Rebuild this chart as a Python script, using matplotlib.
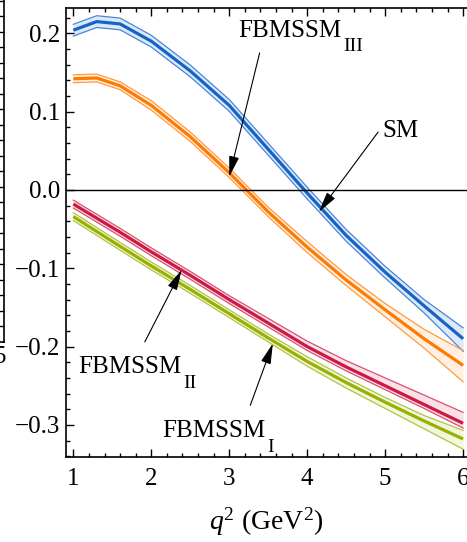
import matplotlib
matplotlib.use("Agg")
import matplotlib.pyplot as plt
from matplotlib.ticker import MultipleLocator

plt.rcParams["font.family"] = ["Liberation Serif", "DejaVu Serif"]
plt.rcParams["mathtext.fontset"] = "custom"
plt.rcParams["mathtext.rm"] = "Liberation Serif"
plt.rcParams["mathtext.it"] = "Liberation Serif:italic"

# q^2 grid (GeV^2)
q2 = [1.0, 1.3, 1.6, 2.0, 2.5, 3.0, 3.5, 4.0, 4.5, 5.0, 5.5, 6.0]

# SM
sm_c = [0.204, 0.215, 0.212, 0.190, 0.152, 0.108, 0.052, -0.004, -0.058, -0.105, -0.148, -0.190]
sm_hi = [0.2115, 0.2225, 0.2195, 0.1975, 0.1595, 0.1155, 0.0595, 0.0035, -0.0505, -0.0975, -0.140, -0.176]
sm_lo = [0.1965, 0.2075, 0.2045, 0.1825, 0.1445, 0.1005, 0.0445, -0.0115, -0.0655, -0.1125, -0.157, -0.206]

# FBMSSM III
f3_c = [0.142, 0.143, 0.133, 0.108, 0.068, 0.022, -0.028, -0.073, -0.115, -0.153, -0.190, -0.224]
f3_hi = [0.147, 0.148, 0.138, 0.114, 0.074, 0.028, -0.022, -0.066, -0.108, -0.145, -0.178, -0.205]
f3_lo = [0.137, 0.138, 0.128, 0.102, 0.062, 0.016, -0.034, -0.080, -0.122, -0.162, -0.202, -0.245]

# FBMSSM II
f2_c = [-0.018, -0.036, -0.054, -0.079, -0.109, -0.140, -0.170, -0.200, -0.226, -0.250, -0.274, -0.298]
f2_hi = [-0.013, -0.031, -0.049, -0.074, -0.104, -0.135, -0.164, -0.193, -0.218, -0.240, -0.262, -0.284]
f2_lo = [-0.023, -0.041, -0.059, -0.084, -0.114, -0.145, -0.175, -0.205, -0.231, -0.255, -0.279, -0.304]

# FBMSSM I
f1_c = [-0.034, -0.053, -0.072, -0.097, -0.127, -0.158, -0.189, -0.219, -0.246, -0.271, -0.295, -0.318]
f1_hi = [-0.029, -0.048, -0.067, -0.092, -0.122, -0.153, -0.184, -0.213, -0.240, -0.265, -0.288, -0.307]
f1_lo = [-0.039, -0.058, -0.077, -0.102, -0.132, -0.163, -0.194, -0.225, -0.253, -0.279, -0.305, -0.331]

series = [
    (sm_c, sm_hi, sm_lo, "#1464c8", "#4a86d6", "#dde9f8"),
    (f3_c, f3_hi, f3_lo, "#ff7a00", "#ff9a40", "#fff0e2"),
    (f2_c, f2_hi, f2_lo, "#cc1a44", "#d85070", "#f9e1e8"),
    (f1_c, f1_hi, f1_lo, "#99b000", "#b0c440", "#f2f6de"),
]

# curve labels: (name, subscript, x, baseline y)
labels = [
    ("FBMSSM", "III", 3.11, 0.1954),
    ("SM", "", 4.97, 0.0677),
    ("FBMSSM", "II", 1.06, -0.2337),
    ("FBMSSM", "I", 2.14, -0.3155),
]
# arrows: (tail, head)
arrows = [
    ((3.39, 0.175), (3.0, 0.017)),
    ((4.91, 0.074), (4.15, -0.028)),
    ((1.917, -0.194), (2.39, -0.102)),
    ((3.27, -0.275), (3.56, -0.196)),
]

W, H = 467, 542
fig = plt.figure(figsize=(W / 100, H / 100), dpi=100)

# main panel
x0, x1 = 0.906, 6.05
y0, y1 = -0.341, 0.233
ax = fig.add_axes([66 / W, (H - 457) / H, 401 / W, (457 - 7.5) / H])
ax.set_xlim(x0, x1)
ax.set_ylim(y0, y1)

for c, hi, lo, col, edge, fill in series:
    ax.fill_between(q2, lo, hi, color=fill, lw=0, zorder=1)
    ax.plot(q2, hi, color=edge, lw=0.9, zorder=2)
    ax.plot(q2, lo, color=edge, lw=0.9, zorder=2)
    ax.plot(q2, c, color=col, lw=2.3, zorder=3, solid_capstyle="butt")

ax.axhline(0.0, color="black", lw=1.0, zorder=4)

ax.xaxis.set_minor_locator(MultipleLocator(0.2))
ax.yaxis.set_minor_locator(MultipleLocator(0.02))
ax.set_yticks([0.2, 0.1, 0.0, -0.1, -0.2, -0.3])
ax.set_yticklabels(["0.2", "0.1", "0.0", "\u22120.1", "\u22120.2", "\u22120.3"])
ax.set_xticks([1, 2, 3, 4, 5, 6])

ax.tick_params(which="both", direction="in", top=True, right=False, width=1.0, colors="black")
ax.tick_params(which="major", length=5.5)
ax.tick_params(which="minor", length=3.0)
ax.tick_params(axis="x", which="major", labelsize=18, pad=8)
ax.tick_params(axis="y", which="major", labelsize=18, pad=4)
ax.spines["right"].set_visible(False)
for s in ("left", "top", "bottom"):
    ax.spines[s].set_linewidth(1.2)

ax.set_xlabel(r"$q^2$ (GeV$^2$)", fontsize=20, labelpad=11)

arrow = dict(arrowstyle="-|>,head_length=0.9,head_width=0.22", color="black",
             lw=0.8, shrinkA=0, shrinkB=0, mutation_scale=14)

for name, sub, lx, ly in labels:
    t = ax.text(lx, ly, name, fontsize=18, ha="left", va="baseline", zorder=6)
    if sub:
        ax.annotate(sub, xy=(1, 0), xycoords=t, xytext=(1.5, 2.5),
                    textcoords="offset points", fontsize=14, ha="left", va="top", zorder=6)

for tail, head in arrows:
    ax.annotate("", xy=head, xytext=tail, arrowprops=arrow, zorder=6)

# edge of the neighbouring panel on the left
axl = fig.add_axes([-0.5, (H - 342) / H, 0.5 + 4 / W, 342 / H + 0.05])
axl.set_xlim(0, 1)
axl.set_ylim(0, 342 + 27)
for s in ("left", "top"):
    axl.spines[s].set_visible(False)
axl.spines["right"].set_linewidth(1.2)
axl.spines["bottom"].set_linewidth(1.2)
axl.set_xticks([])
axl.yaxis.tick_right()
axl.set_yticks([15.5 * k for k in range(1, 23)])
axl.tick_params(axis="y", direction="in", length=4, width=1.0, labelright=False)
fig.text(0 / W, 1 - 357 / H, "5", fontsize=18, ha="center", va="center")

fig.savefig("out.png", dpi=100)
